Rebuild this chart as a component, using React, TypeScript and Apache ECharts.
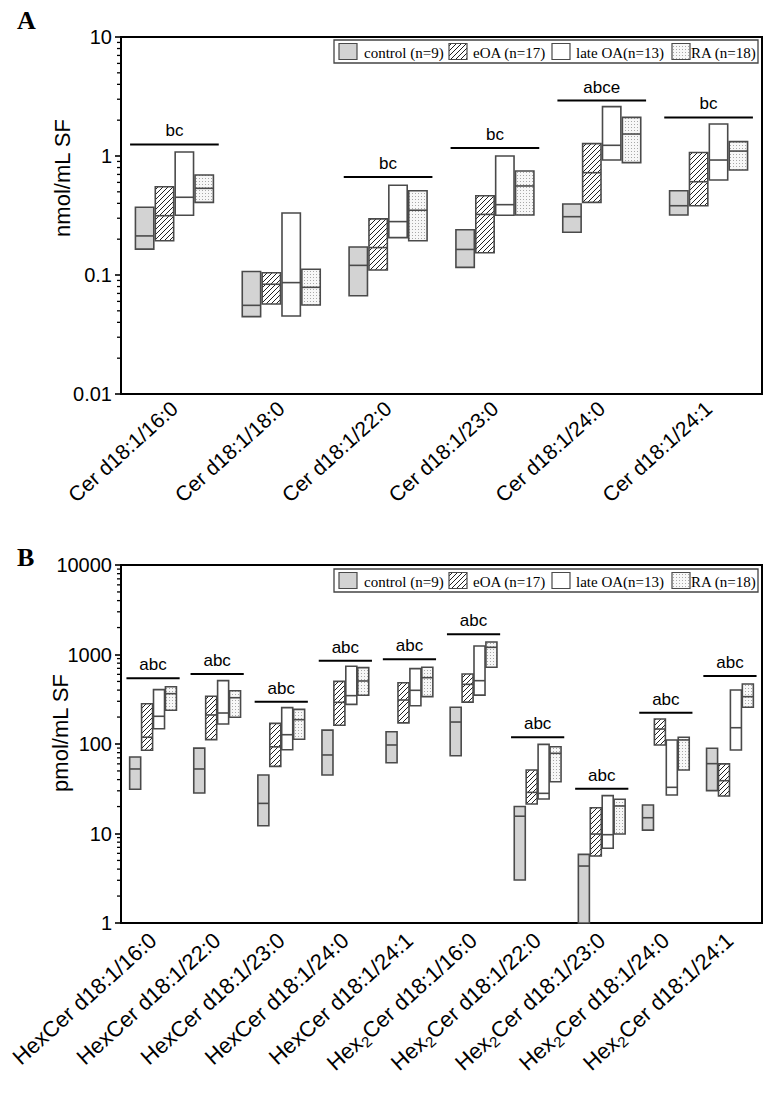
import React, { useEffect, useRef } from "react";
import * as echarts from "echarts";

// ---------------- DATA ----------------
const catsA = ["Cer d18:1/16:0", "Cer d18:1/18:0", "Cer d18:1/22:0", "Cer d18:1/23:0", "Cer d18:1/24:0", "Cer d18:1/24:1"];
// [low, median, high]
const ctrlA = [[0.165, 0.213, 0.371], [0.0447, 0.0556, 0.107], [0.067, 0.1205, 0.172], [0.116, 0.164, 0.24], [0.229, 0.309, 0.395], [0.319, 0.382, 0.511]];
const eoaA = [[0.194, 0.315, 0.552], [0.057, 0.0836, 0.1046], [0.11, 0.17, 0.296], [0.154, 0.323, 0.464], [0.408, 0.724, 1.27], [0.382, 0.608, 1.07]];
const lateA = [[0.318, 0.45, 1.08], [0.0452, 0.0863, 0.332], [0.206, 0.281, 0.567], [0.318, 0.39, 1.0], [0.925, 1.23, 2.6], [0.629, 0.925, 1.86]];
const raA = [[0.408, 0.535, 0.692], [0.056, 0.0788, 0.1117], [0.194, 0.35, 0.511], [0.319, 0.56, 0.748], [0.879, 1.53, 2.11], [0.763, 1.1, 1.32]];
const sigValA = [1.25, null, 0.667, 1.17, 2.92, 2.11];
const sigLabA = ["bc", "", "bc", "bc", "abce", "bc"];

const catsB = ["HexCer d18:1/16:0", "HexCer d18:1/22:0", "HexCer d18:1/23:0", "HexCer d18:1/24:0", "HexCer d18:1/24:1", "Hex2Cer d18:1/16:0", "Hex2Cer d18:1/22:0", "Hex2Cer d18:1/23:0", "Hex2Cer d18:1/24:0", "Hex2Cer d18:1/24:1"];
const ctrlB = [[31.2, 52.6, 71.6], [28.4, 52.6, 90], [12.2, 21.7, 45], [45, 75.4, 143], [61.8, 97.5, 137], [74, 176, 257], [3.02, 15.6, 20], [1, 4.33, 5.85], [10.9, 15, 20.8], [30.1, 60.3, 89.5]];
const eoaB = [[85, 119, 282], [112, 211, 341], [56.3, 93, 170], [162, 292, 501], [172, 310, 484], [294, 464, 605], [21.4, 28.8, 51.2], [5.6, 9.86, 19.4], [97.5, 147, 190], [26.2, 38.9, 60]];
const lateB = [[148, 204, 405], [167, 222, 510], [86.4, 127, 255], [277, 347, 738], [268, 398, 695], [352, 510, 1245], [24.3, 28.1, 99], [6.83, 9.7, 26.5], [26.9, 32.8, 111], [85.7, 152, 401]];
const raB = [[238, 365, 436], [199, 329, 394], [113, 187, 244], [350, 506, 713], [338, 551, 719], [719, 1203, 1380], [37.9, 78.7, 93.3], [9.86, 20.3, 24.1], [51.2, 111, 119], [257, 338, 468]];
const sigValB = [542, 605, 297, 853, 884, 1680, 119, 31.7, 224, 575];
const sigLabB = ["abc", "abc", "abc", "abc", "abc", "abc", "abc", "abc", "abc", "abc"];

const groupNames = ["control (n=9)", "eOA (n=17)", "late OA(n=13)", "RA (n=18)"];
const minorMult = [2, 3, 4, 5, 6, 7, 8, 9];
const decadesA = [0.01, 0.1, 1];
const decadesB = [1, 10, 100, 1000];

// ---------------- STYLE ----------------
const SANS = "Liberation Sans";
const SERIF = "Liberation Serif";
const BOXW = 0.172;
const STEP = 0.186;
const STROKE = "#4a4a4a";

function makeHatch() {
  const c = document.createElement("canvas");
  c.width = 5;
  c.height = 5;
  const g = c.getContext("2d")!;
  g.fillStyle = "#ffffff";
  g.fillRect(0, 0, 5, 5);
  g.strokeStyle = "#222";
  g.lineWidth = 1;
  g.beginPath();
  g.moveTo(0, 5); g.lineTo(5, 0);
  g.moveTo(-1, 1); g.lineTo(1, -1);
  g.moveTo(4, 6); g.lineTo(6, 4);
  g.stroke();
  return { image: c.toDataURL(), repeat: "repeat", imageWidth: 5, imageHeight: 5 };
}
function makeDots() {
  const c = document.createElement("canvas");
  c.width = 3;
  c.height = 3;
  const g = c.getContext("2d")!;
  g.fillStyle = "#f7f7f7";
  g.fillRect(0, 0, 3, 3);
  g.fillStyle = "#a8a8a8";
  g.fillRect(1, 1, 1, 1);
  return { image: c.toDataURL(), repeat: "repeat", imageWidth: 3, imageHeight: 3 };
}

export default function App() {
  const ref = useRef<HTMLDivElement>(null);
  useEffect(() => {
    if (!ref.current) return;
    const chart = echarts.init(ref.current, undefined, { renderer: "svg" });
    const hatch = makeHatch();
    const dots = makeDots();
    const fills: any[] = ["#d3d3d3", hatch, "#ffffff", dots];

    const boxRender = (gi: number) => (params: any, api: any) => {
      const cat = api.value(0);
      const lo = api.value(1), med = api.value(2), hi = api.value(3);
      const p0 = api.coord([0, lo]);
      const p1 = api.coord([1, lo]);
      const band = p1[0] - p0[0];
      const cx = api.coord([cat, lo])[0] + (gi - 1.5) * band * STEP;
      const w = band * BOXW;
      const yLo = api.coord([cat, lo])[1];
      const yHi = api.coord([cat, hi])[1];
      const yMed = api.coord([cat, med])[1];
      return {
        type: "group",
        children: [
          { type: "rect", shape: { x: cx - w / 2, y: yHi, width: w, height: yLo - yHi }, style: { fill: fills[gi], stroke: STROKE, lineWidth: 1.6 } },
          { type: "line", shape: { x1: cx - w / 2, y1: yMed, x2: cx + w / 2, y2: yMed }, style: { stroke: STROKE, lineWidth: 1.6 } },
        ],
      };
    };

    const sigRender = (labels: string[]) => (params: any, api: any) => {
      const cat = api.value(0);
      const v = api.value(1);
      const p0 = api.coord([0, v]);
      const p1 = api.coord([1, v]);
      const band = p1[0] - p0[0];
      const pt = api.coord([cat, v]);
      const half = band * 0.415;
      return {
        type: "group",
        children: [
          { type: "line", shape: { x1: pt[0] - half, y1: pt[1], x2: pt[0] + half, y2: pt[1] }, style: { stroke: "#000", lineWidth: 2 } },
          { type: "text", x: pt[0], y: pt[1] - 5, style: { text: labels[cat], align: "center", verticalAlign: "bottom", fontSize: 17, fontFamily: SANS, fill: "#000" } },
        ],
      };
    };

    const minorRender = (params: any, api: any) => {
      const v = api.value(1);
      const pt = api.coord([0, v]);
      const x0 = params.coordSys.x;
      return { type: "line", shape: { x1: x0 - 4, y1: pt[1], x2: x0, y2: pt[1] }, style: { stroke: "#000", lineWidth: 1.3 } };
    };

    const boxSeries = (arrs: number[][][], axis: number) =>
      arrs.map((arr, gi) => ({
        type: "custom",
        name: groupNames[gi],
        xAxisIndex: axis,
        yAxisIndex: axis,
        clip: false,
        renderItem: boxRender(gi),
        encode: { x: 0, y: [1, 2, 3] },
        data: arr.map((d, i) => [i, d[0], d[1], d[2]]),
      }));

    const sigSeries = (vals: (number | null)[], labels: string[], axis: number) => ({
      type: "custom",
      xAxisIndex: axis,
      yAxisIndex: axis,
      clip: false,
      renderItem: sigRender(labels),
      encode: { x: 0, y: 1 },
      data: vals.map((v, i) => [i, v]).filter((d) => d[1] != null),
    });

    const minorSeries = (decades: number[], axis: number) => ({
      type: "custom",
      xAxisIndex: axis,
      yAxisIndex: axis,
      clip: false,
      silent: true,
      renderItem: minorRender,
      encode: { x: 0, y: 1 },
      data: decades.flatMap((d) => minorMult.map((m) => [0, d * m])),
    });

    const fmt = (v: number) => String(parseFloat(Number(v).toPrecision(4)));

    const yAxisCommon = {
      type: "log",
      logBase: 10,
      axisLine: { show: true, lineStyle: { color: "#000", width: 2 } },
      axisTick: { show: true, length: 6, lineStyle: { color: "#000", width: 1.6 } },
      axisLabel: { color: "#000", fontSize: 20, fontFamily: SANS, margin: 9, formatter: fmt },
      splitLine: { show: false },
      minorTick: { show: false },
    };

    const xLabelCommon = {
      color: "#000",
      fontSize: 21,
      fontFamily: SANS,
      rotate: 42,
      margin: 11,
      interval: 0,
    };

    const legendGraphic = (top: number) => {
      const xs = [339, 449, 552, 672];
      const tx = [364, 473, 576, 691];
      const els: any[] = [
        { type: "rect", shape: { x: 334, y: top, width: 424, height: 23 }, style: { fill: "#fff", stroke: "#444", lineWidth: 1.3 } },
      ];
      for (let i = 0; i < 4; i++) {
        els.push({ type: "rect", shape: { x: xs[i], y: top + 3.5, width: 18, height: 16 }, style: { fill: fills[i], stroke: STROKE, lineWidth: 1.2 } });
        els.push({ type: "text", x: tx[i], y: top + 12.5, style: { text: groupNames[i], fontSize: 15, fontFamily: SERIF, fill: "#000", align: "left", verticalAlign: "middle" } });
      }
      return els;
    };

    const option: any = {
      animation: false,
      backgroundColor: "#fff",
      grid: [
        { left: 121, top: 37, width: 641, height: 357, show: true, borderColor: "#000", borderWidth: 2, backgroundColor: "transparent" },
        { left: 121, top: 565, width: 641, height: 358, show: true, borderColor: "#000", borderWidth: 2, backgroundColor: "transparent" },
      ],
      xAxis: [
        {
          type: "category", gridIndex: 0, data: catsA,
          axisLine: { lineStyle: { color: "#000", width: 2 } },
          axisTick: { show: false },
          axisLabel: xLabelCommon,
        },
        {
          type: "category", gridIndex: 1, data: catsB,
          axisLine: { lineStyle: { color: "#000", width: 2 } },
          axisTick: { show: false },
          axisLabel: {
            ...xLabelCommon,
            fontSize: 22,
            margin: 14,
            formatter: (v: string) => (v.startsWith("Hex2") ? "Hex{sub|2}" + v.slice(4) : v),
            rich: { sub: { fontSize: 15, fontFamily: SANS, color: "#000", padding: [12, 0, 0, 0] } },
          },
        },
      ],
      yAxis: [
        { ...yAxisCommon, gridIndex: 0, min: 0.01, max: 10 },
        { ...yAxisCommon, gridIndex: 1, min: 1, max: 10000 },
      ],
      graphic: [
        { type: "text", left: 17, top: 7, style: { text: "A", fontSize: 26, fontWeight: "bold", fontFamily: SERIF, fill: "#000" } },
        { type: "text", left: 17, top: 544, style: { text: "B", fontSize: 26, fontWeight: "bold", fontFamily: SERIF, fill: "#000" } },
        { type: "text", x: 62, y: 178, rotation: Math.PI / 2, style: { text: "nmol/mL SF", fontSize: 22, fontFamily: SANS, fill: "#000", align: "center", verticalAlign: "middle" } },
        { type: "text", x: 60, y: 733, rotation: Math.PI / 2, style: { text: "pmol/mL SF", fontSize: 22, fontFamily: SANS, fill: "#000", align: "center", verticalAlign: "middle" } },
        ...legendGraphic(40),
        ...legendGraphic(569),
      ],
      series: [
        ...boxSeries([ctrlA, eoaA, lateA, raA], 0),
        sigSeries(sigValA, sigLabA, 0),
        minorSeries(decadesA, 0),
        ...boxSeries([ctrlB, eoaB, lateB, raB], 1),
        sigSeries(sigValB, sigLabB, 1),
        minorSeries(decadesB, 1),
      ],
    };
    chart.setOption(option);
    return () => chart.dispose();
  }, []);
  return <div ref={ref} style={{ position: "fixed", left: 0, top: 0, width: 768, height: 1097, background: "#fff" }} />;
}
